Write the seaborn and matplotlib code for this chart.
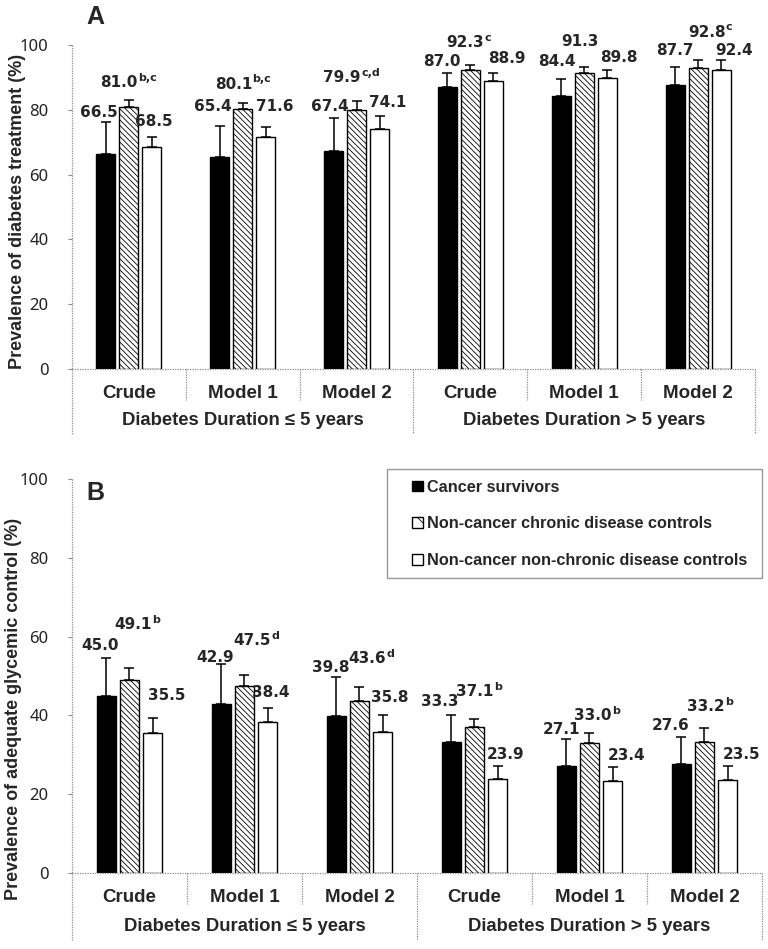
import numpy as np
import matplotlib.pyplot as plt
import matplotlib.transforms as mtransforms
from matplotlib.patches import Patch, Rectangle
import seaborn as sns
import pandas as pd

models = ['Crude', 'Model 1', 'Model 2', 'Crude', 'Model 1', 'Model 2']
durations = ['Diabetes Duration \u2264 5 years', 'Diabetes Duration > 5 years']
groups = ['Cancer survivors', 'Non-cancer chronic disease controls',
          'Non-cancer non-chronic disease controls']

# panel A: prevalence of diabetes treatment (%)
treat_cancer = [66.5, 65.4, 67.4, 87.0, 84.4, 87.7]
treat_chronic = [81.0, 80.1, 79.9, 92.3, 91.3, 92.8]
treat_other = [68.5, 71.6, 74.1, 88.9, 89.8, 92.4]
# upper ends of the error bars
treat_cancer_hi = [76.2, 75.1, 77.5, 91.2, 89.5, 93.1]
treat_chronic_hi = [83.0, 82.2, 82.7, 93.8, 93.1, 95.5]
treat_other_hi = [71.6, 74.8, 78.1, 91.5, 92.3, 95.4]
treat_chronic_sup = ['b,c', 'b,c', 'c,d', 'c', '', 'c']

# panel B: prevalence of adequate glycemic control (%)
control_cancer = [45.0, 42.9, 39.8, 33.3, 27.1, 27.6]
control_chronic = [49.1, 47.5, 43.6, 37.1, 33.0, 33.2]
control_other = [35.5, 38.4, 35.8, 23.9, 23.4, 23.5]
control_cancer_hi = [54.6, 53.0, 49.8, 40.1, 33.9, 34.6]
control_chronic_hi = [51.9, 50.2, 47.1, 39.1, 35.5, 36.7]
control_other_hi = [39.3, 41.9, 40.2, 27.1, 26.8, 27.1]
control_chronic_sup = ['b', 'd', 'd', 'b', 'b', 'b']

# hand nudges of the value labels (pixels), one row per group
nudge_a_x = [[-7, -7, -3.5, -5.5, -4, 0], [0, 1, -4, -2, -4, 12], [2, 9, 8.5, 13, 12, 13]]
nudge_a_y = [[5.4, 14.7, 7, 7.6, 13.3, 12.3], [13, 14, 19, 18, 21, 23], [11, 16, 9, 10, 8, 5]]
nudge_b_x = [[-6, -6, -6, -12, -5, -11], [7, 11, 11, 4, 7, 5], [14, 3, 7, 8, 14, 14]]
nudge_b_y = [[8, 2, 5, 9, 5, 7], [39, 30, 24, 23, 13, 17], [18, 11, 13, 7, 7, 7]]

HATCH = '\\\\\\\\\\\\'
GRID = '#8c8c8c'
PX = 0.72

sns.set_style('white')
plt.rcParams['font.family'] = ['Liberation Sans', 'DejaVu Sans']
plt.rcParams['hatch.linewidth'] = 0.6


def draw_panel(ax, vals, his, sups, nudge_x, nudge_y, ylabel, ylab_pos,
               cat_bottom, group_bottom, group_y):
    df = pd.DataFrame({'slot': np.tile(np.arange(6), 3),
                       'group': np.repeat(groups, 6),
                       'value': np.concatenate(vals)})
    sns.barplot(data=df, x='slot', y='value', hue='group', hue_order=groups,
                palette=['black', 'white', 'white'], saturation=1,
                edgecolor='black', linewidth=1.0, width=0.606, gap=0.173,
                errorbar=None, legend=False, ax=ax)
    bar_sets = list(ax.containers)
    for bar in bar_sets[1]:
        bar.set_hatch(HATCH)

    for k, cont in enumerate(bar_sets):
        xs = np.array([b.get_x() + b.get_width() / 2 for b in cont])
        v = np.array(vals[k])
        hi = np.array(his[k])
        ax.errorbar(xs, v, yerr=[np.zeros_like(v), hi - v], fmt='none',
                    ecolor='black', elinewidth=1.1, capsize=3.3, capthick=1.1,
                    zorder=3)
        for j in range(6):
            sup = sups[j] if k == 1 else ''
            shift = -2.5 * len(sup)
            t = ax.annotate(f'{v[j]:.1f}', (xs[j], hi[j]),
                            xytext=(nudge_x[k][j] * PX + shift, nudge_y[k][j] * PX),
                            textcoords='offset points', ha='center',
                            va='baseline', fontsize=11, fontweight='bold',
                            family='DejaVu Sans', annotation_clip=False)
            if sup:
                ax.annotate(sup, (1, 0.62), xycoords=t, xytext=(0.4, 0),
                            textcoords='offset points', ha='left',
                            va='baseline', fontsize=8, fontweight='bold',
                            family='DejaVu Sans')

    sns.despine(ax=ax, left=True, bottom=True)
    trans = mtransforms.blended_transform_factory(ax.transData, ax.transAxes)
    line_kw = dict(color=GRID, lw=0.9, ls=(0, (1, 1)), clip_on=False,
                   transform=trans)
    ax.plot([-0.5, 5.5], [0, 0], **line_kw)
    ax.plot([-0.5, -0.5], [1, group_bottom], **line_kw)
    for b in [0.5, 1.5, 3.5, 4.5]:
        ax.plot([b, b], [0, cat_bottom], **line_kw)
    for b in [2.5, 5.5]:
        ax.plot([b, b], [0, group_bottom], **line_kw)
    ax.text(1, group_y, durations[0], transform=trans, ha='center',
            va='center', fontsize=13.3, fontweight='bold')
    ax.text(4, group_y, durations[1], transform=trans, ha='center',
            va='center', fontsize=13.3, fontweight='bold')

    ax.set_xlim(-0.5, 5.5)
    ax.set_ylim(0, 100)
    ax.set_xticks(range(6), models)
    ax.tick_params(axis='x', bottom=False, pad=7.7, labelsize=13.5)
    for lab in ax.get_xticklabels():
        lab.set_fontweight('bold')
    ax.set_yticks(range(0, 101, 20))
    ax.tick_params(axis='y', left=True, length=3, width=0.8, color=GRID,
                   pad=14, labelsize=12, labelcolor='#222222')
    for lab in ax.get_yticklabels():
        lab.set_family('Noto Sans')
    ax.set_xlabel('')
    ax.set_ylabel(ylabel, fontsize=13, fontweight='bold')
    ax.yaxis.set_label_coords(*ylab_pos)


fig = plt.figure(figsize=(7.68, 9.49), dpi=100)
ax_a = fig.add_axes([0.09375, 0.6112, 0.8893, 0.3414])
ax_b = fig.add_axes([0.09375, 0.0801, 0.8984, 0.4152])

draw_panel(ax_a, [treat_cancer, treat_chronic, treat_other],
           [treat_cancer_hi, treat_chronic_hi, treat_other_hi],
           treat_chronic_sup, nudge_a_x, nudge_a_y,
           'Prevalence of diabetes treatment (%)', (-0.068, 0.485),
           -0.096, -0.2, -0.16)
draw_panel(ax_b, [control_cancer, control_chronic, control_other],
           [control_cancer_hi, control_chronic_hi, control_other_hi],
           control_chronic_sup, nudge_b_x, nudge_b_y,
           'Prevalence of adequate glycemic control (%)', (-0.0725, 0.4175),
           -0.078, -0.17, -0.135)

handles = [Patch(facecolor='black', edgecolor='black', label=groups[0]),
           Patch(facecolor='white', edgecolor='black', hatch='\\\\',
                 label=groups[1]),
           Patch(facecolor='white', edgecolor='black', label=groups[2])]
ax_b.add_patch(Rectangle((0.4565, 0.749), 0.5435, 0.2764,
                         transform=ax_b.transAxes, facecolor='white',
                         edgecolor='#999999', lw=1, clip_on=False, zorder=4))
ax_b.legend(handles=handles, loc='upper left', bbox_to_anchor=(0.4928, 0.998),
            frameon=False, prop={'weight': 'bold', 'size': 11.7},
            handlelength=0.65, handleheight=0.65, handletextpad=0.3,
            labelspacing=1.33, borderpad=0, borderaxespad=0)

fig.text(86 / 768, 1 - 5 / 949, 'A', fontsize=18, fontweight='bold',
         va='top', ha='left')
fig.text(86 / 768, 1 - 481 / 949, 'B', fontsize=18, fontweight='bold',
         va='top', ha='left')

plt.savefig('out.png', dpi=100)
